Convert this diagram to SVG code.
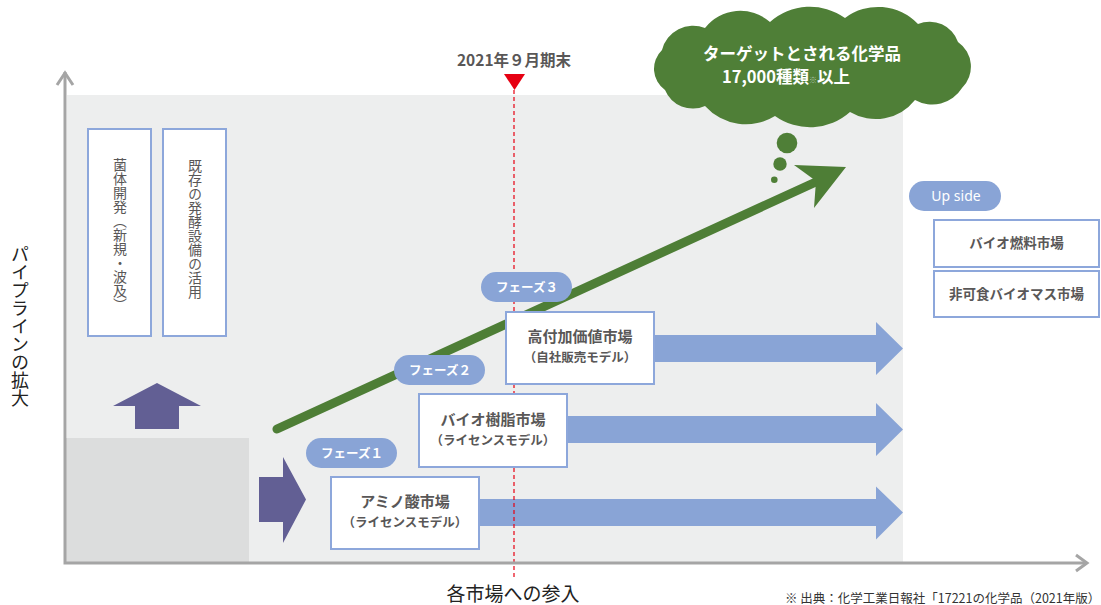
<svg xmlns="http://www.w3.org/2000/svg" width="1101" height="605" viewBox="0 0 1101 605">
<style>
.jp{font-family:"Noto Sans CJK JP","Noto Sans",sans-serif}
.box{fill:#fff;stroke:#8DA7DB;stroke-width:2}
.ttl{font-family:"Noto Sans CJK JP",sans-serif;font-size:15px;font-weight:700;fill:#595757;text-anchor:middle}
.sub{font-family:"Noto Sans CJK JP",sans-serif;font-size:12.5px;font-weight:700;fill:#595757;text-anchor:middle}
.pill{fill:#89A4D6}
.pt{font-family:"Noto Sans CJK JP",sans-serif;font-size:12.5px;font-weight:700;fill:#fff;text-anchor:middle}
.vt{font-family:"Noto Sans CJK JP",sans-serif;font-size:14px;fill:#595757;writing-mode:vertical-rl}
.blue{fill:#89A4D6}
.purple{fill:#625F94}
.axis{stroke:#A5A5A5;stroke-width:3;fill:none}
</style>
<rect x="67" y="95" width="836" height="468" fill="#EDEEEE"/>
<rect x="66" y="438" width="183" height="125" fill="#DCDDDD"/>

<g id="connectors">
  <line x1="277" y1="429" x2="818" y2="181" stroke="#4E7E36" stroke-width="9" stroke-linecap="round"/>
  <polygon points="846,167 794,165 816,181 814,208" fill="#4E7E36"/>
  <polygon class="blue" points="654,335 876,335 876,322 903,348.5 876,375 876,362 654,362"/>
  <polygon class="blue" points="567,416 876,416 876,403 903,429.5 876,456 876,443 567,443"/>
  <polygon class="blue" points="479,499 876,499 876,486.5 903,512.5 876,539.5 876,526 479,526"/>
  <polygon class="purple" points="135,429 135,406 113,406 157,383 201,406 179,406 179,429"/>
  <polygon class="purple" points="259,477 283,477 283,457 306,499.5 283,543 283,522 259,522"/>
  <line x1="514" y1="90" x2="514" y2="578" stroke="#E60012" stroke-width="1.2" stroke-dasharray="4,3"/>
  <polyline class="axis" points="65,72 65,563 1087,563"/>
  <polyline class="axis" points="57,85 65,73 73,85"/>
  <polyline class="axis" points="1076,555 1087,563 1076,571"/>
</g>

<g id="marker-date">
  <text class="jp" x="514" y="66" font-size="15.5" font-weight="700" fill="#595757" text-anchor="middle">2021年９月期末</text>
  <polygon points="504,74 525,74 514.5,90" fill="#E60012"/>
</g>

<g id="cloud">
  <path d="M665,90 A26,26 0 0 1 662,50 A32,32 0 0 1 705,28 A45,45 0 0 1 770,22 A60,60 0 0 1 845,18 A55,55 0 0 1 918,24 A30,30 0 0 1 958,42 A30,30 0 0 1 962,88 A35,35 0 0 1 915,100 A50,50 0 0 1 850,112 A60,60 0 0 1 775,116 A55,55 0 0 1 705,106 A30,30 0 0 1 665,90 Z" fill="#4F7F37"/>
  <circle cx="787" cy="143" r="10.3" fill="#4F7F37"/>
  <circle cx="780" cy="164" r="6.7" fill="#4F7F37"/>
  <circle cx="774.3" cy="179.7" r="3.3" fill="#4F7F37"/>
  <text class="jp" x="703" y="60" font-size="16.5" font-weight="700" fill="#fff">ターゲットとされる化学品</text>
  <text class="jp" x="722" y="83" font-size="16.5" font-weight="700" fill="#fff">17,000種類<tspan font-size="8" fill="#B3C6AE">※</tspan>以上</text>
</g>

<g id="box-kintai">
  <rect class="box" x="88" y="129" width="63" height="207"/>
  <text class="vt" x="120" y="158">菌体開発（新規・波及）</text>
</g>
<g id="box-kison">
  <rect class="box" x="163" y="129" width="63" height="207"/>
  <text class="vt" x="195" y="159">既存の発酵設備の活用</text>
</g>

<g id="box-amino">
  <rect class="box" x="331" y="477" width="148" height="72"/>
  <text class="ttl" x="405" y="507">アミノ酸市場</text>
  <text class="sub" x="405" y="527">（ライセンスモデル）</text>
</g>
<g id="box-bio-resin">
  <rect class="box" x="419" y="394" width="148" height="73"/>
  <text class="ttl" x="493" y="425">バイオ樹脂市場</text>
  <text class="sub" x="493" y="445">（ライセンスモデル）</text>
</g>
<g id="box-high-value">
  <rect class="box" x="506" y="312" width="148" height="72"/>
  <text class="ttl" x="580" y="342">高付加価値市場</text>
  <text class="sub" x="580" y="362">（自社販売モデル）</text>
</g>

<g id="phase1">
  <rect class="pill" x="306" y="438" width="91" height="30" rx="15"/>
  <text class="pt" x="352" y="458">フェーズ１</text>
</g>
<g id="phase2">
  <rect class="pill" x="394" y="355" width="91" height="30" rx="15"/>
  <text class="pt" x="440" y="375">フェーズ２</text>
</g>
<g id="phase3">
  <rect class="pill" x="481" y="272" width="91" height="30" rx="15"/>
  <text class="pt" x="527" y="292">フェーズ３</text>
</g>

<g id="upside">
  <rect class="pill" x="909" y="181" width="92" height="30" rx="15"/>
  <text x="956" y="201" font-family="'Noto Sans',sans-serif" font-size="14" fill="#fff" text-anchor="middle">Up side</text>
</g>
<g id="box-biofuel">
  <rect class="box" x="934" y="220" width="165" height="47"/>
  <text class="ttl" x="1016.5" y="248" style="font-size:13.5px">バイオ燃料市場</text>
</g>
<g id="box-nonfood">
  <rect class="box" x="934" y="271" width="165" height="46"/>
  <text class="ttl" x="1016.5" y="299" style="font-size:13.5px">非可食バイオマス市場</text>
</g>

<g id="axis-labels">
  <text class="jp" x="20" y="245" font-size="18" fill="#222" style="writing-mode:vertical-rl">パイプラインの拡大</text>
  <text class="jp" x="513" y="601" font-size="19" fill="#222" text-anchor="middle">各市場への参入</text>
  <text class="jp" x="785" y="603" font-size="12.5" fill="#333">※ 出典：化学工業日報社「17221の化学品（2021年版）</text>
</g>
</svg>
